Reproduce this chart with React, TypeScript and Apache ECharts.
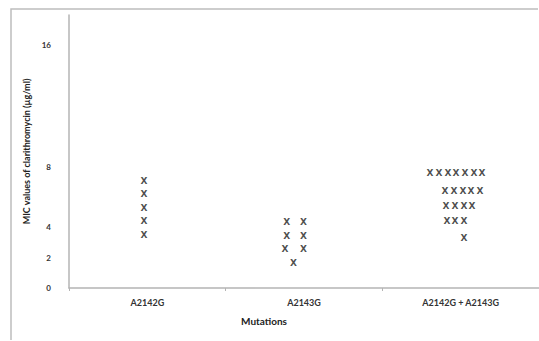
import React, { useEffect, useRef } from "react";
import * as echarts from "echarts";

const categories = ["A2142G", "A2143G", "A2142G + A2143G"];
const yTickLabels = [0, 2, 4, 8, 16];
const yAxisTitle = "MIC values of clarithromycin (µg/ml)";
const xAxisTitle = "Mutations";

// points: [x position in category units (0..3), MIC value]
const groupA2142G: [number, number][] = [
  [0.479, 7.05],
  [0.479, 6.2],
  [0.479, 5.27],
  [0.479, 4.42],
  [0.479, 3.49],
];
const groupA2143G: [number, number][] = [
  [1.389, 4.35],
  [1.496, 4.35],
  [1.389, 3.43],
  [1.496, 3.43],
  [1.379, 2.57],
  [1.496, 2.57],
  [1.432, 1.65],
];
const groupBoth: [number, number][] = [
  [2.304, 7.58], [2.362, 7.58], [2.419, 7.58], [2.47, 7.58], [2.528, 7.58], [2.585, 7.58], [2.636, 7.58],
  [2.4, 6.39], [2.457, 6.39], [2.515, 6.39], [2.566, 6.39], [2.623, 6.39],
  [2.406, 5.41], [2.464, 5.41], [2.521, 5.41], [2.572, 5.41],
  [2.413, 4.42], [2.464, 4.42], [2.521, 4.42],
  [2.521, 3.3],
];

const FONT = "Lato, 'Liberation Sans', sans-serif";

export default function App() {
  const ref = useRef<HTMLDivElement>(null);
  useEffect(() => {
    if (!ref.current) return;
    const chart = echarts.init(ref.current, undefined, { renderer: "svg" });
    const markSeries = (name: string, data: [number, number][]) => ({
      type: "scatter",
      name,
      xAxisIndex: 1,
      yAxisIndex: 0,
      data,
      symbolSize: 6,
      itemStyle: { color: "rgba(0,0,0,0)" },
      label: {
        show: true,
        position: "inside",
        formatter: "X",
        fontFamily: "'DejaVu Sans', sans-serif",
        fontWeight: "bold",
        fontSize: 9,
        color: "#1e1e1e",
      },
      emphasis: { disabled: true },
    });
    chart.setOption({
      animation: false,
      backgroundColor: "#ffffff",
      grid: { left: 69, right: 0, top: 15, bottom: 53, containLabel: false },
      xAxis: [
        {
          type: "category",
          data: categories,
          boundaryGap: true,
          axisLine: { show: true, lineStyle: { color: "#b4b4b4", width: 1.5 } },
          axisTick: { show: true, interval: 0, length: 3, lineStyle: { color: "#b4b4b4" } },
          axisLabel: {
            interval: 0,
            margin: 10,
            fontFamily: FONT,
            fontWeight: "bold",
            fontSize: 9,
            color: "#333333",
          },
          splitLine: { show: false },
        },
        {
          type: "value",
          min: 0,
          max: 3,
          show: false,
          position: "bottom",
        },
      ],
      yAxis: {
        type: "value",
        min: 0,
        max: 18,
        interval: 2,
        name: yAxisTitle,
        nameLocation: "middle",
        nameGap: 31,
        nameTextStyle: {
          fontFamily: FONT,
          fontWeight: "bold",
          fontSize: 9,
          color: "#222222",
        },
        axisLine: { show: true, lineStyle: { color: "#b4b4b4", width: 1.5 } },
        axisTick: { show: false },
        splitLine: { show: false },
        axisLabel: {
          margin: 18,
          fontFamily: FONT,
          fontWeight: "bold",
          fontSize: 8,
          color: "#333333",
          formatter: (v: number) => (yTickLabels.includes(v) ? String(v) : ""),
        },
      },
      graphic: [
        {
          type: "polyline",
          shape: { points: [[11, 340], [11, 9], [538, 9]] },
          style: { stroke: "#bdbdbd", lineWidth: 1.5, fill: null },
        },
        {
          type: "text",
          x: 264,
          y: 321,
          style: {
            text: xAxisTitle,
            fontFamily: FONT,
            fontWeight: "bold",
            fontSize: 10,
            fill: "#222222",
            textAlign: "center",
            textVerticalAlign: "middle",
          },
        },
      ],
      series: [
        markSeries(categories[0], groupA2142G),
        markSeries(categories[1], groupA2143G),
        markSeries(categories[2], groupBoth),
      ],
    });
    return () => chart.dispose();
  }, []);
  return (
    <div
      ref={ref}
      style={{ position: "fixed", left: 0, top: 0, width: 539, height: 341, background: "#fff" }}
    />
  );
}
